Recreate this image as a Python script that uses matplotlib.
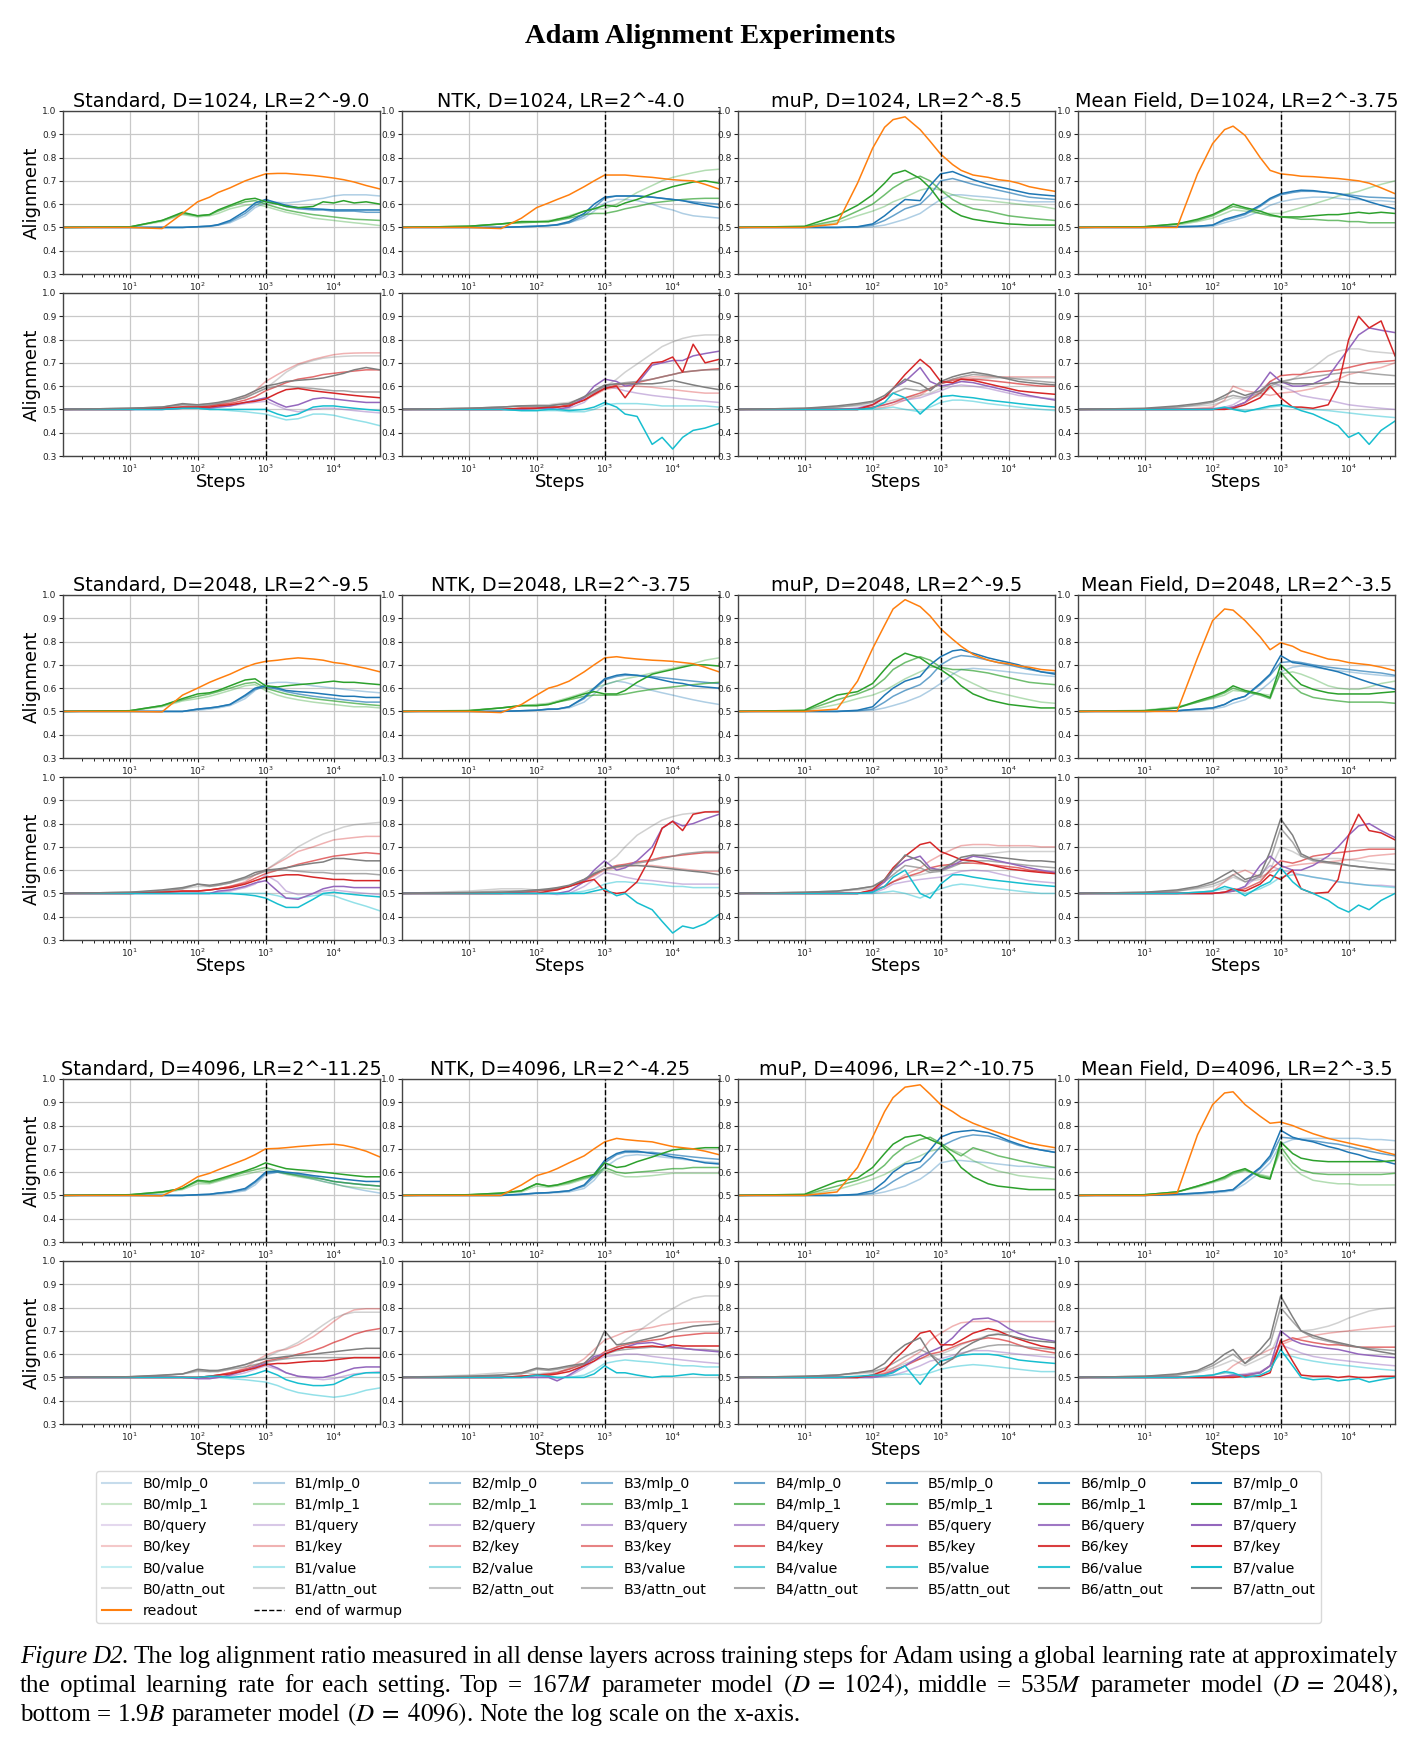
import re
import matplotlib.pyplot as plt
from matplotlib.lines import Line2D

steps = [1, 10, 30, 60, 100, 150, 200, 300, 500, 700, 1000, 1500, 2000,
         3000, 5000, 7000, 10000, 14000, 20000, 30000, 48000]

# Alignment values in percent. Bundles are listed light block -> dark block.
# ---------------- Standard, D=1024 ----------------
std1k_readout = [50, 50, 49.5, 56, 61, 63, 65, 67, 70, 71.5, 73, 73.2, 73.2, 72.8, 72.3, 71.8, 71.2, 70.5, 69.5, 68, 66.5]
std1k_mlp0 = [[50, 50, 50, 50, 50.3, 50.5, 51, 52, 55, 58.5, 60.5, 60.8, 60.5, 61, 62, 62.5, 63.5, 64, 64, 64, 63.5],
              [50, 50, 50, 50, 50.3, 50.5, 51, 52.5, 56, 59.5, 61.5, 60, 59, 58, 57.5, 57.5, 57, 57, 57, 56.5, 56.5],
              [50, 50, 50, 50, 50.3, 50.6, 51.2, 53, 57, 60.5, 62, 60.5, 59.5, 58.5, 58, 57.8, 57.5, 57.5, 57.5, 57.5, 57.5]]
std1k_mlp1 = [[50, 50.2, 52.5, 55.5, 54.5, 55, 56, 58, 59.5, 60, 59, 57.5, 56.5, 55.5, 54, 53.5, 53, 52.5, 52, 51.5, 50.8],
              [50, 50.2, 53, 56, 55, 55.5, 57, 59, 61, 61.5, 60, 58.5, 57.5, 56.5, 55.5, 55, 54.5, 54, 53.5, 53.3, 53],
              [50, 50.2, 53, 56.5, 55, 55.5, 57.5, 59.5, 62, 62.5, 61, 60, 59, 58.5, 59, 61, 60.5, 61.5, 60.5, 61, 60]]
std1k_query = [[50, 50, 50, 50.5, 50.5, 50.5, 51, 51.5, 52.5, 53, 53.5, 51.5, 50, 49, 50, 50.5, 50.5, 50, 49.5, 49, 48.5],
               [50, 50, 50, 50.5, 50.5, 50.5, 51, 51.5, 53, 54, 55, 52.5, 51, 52, 54.5, 55, 54.5, 54, 53.5, 53, 53]]
std1k_key = [[50, 50, 50.5, 51, 51, 51.5, 52, 53, 55.5, 58, 62, 65, 67, 69.5, 71.5, 72.5, 73.5, 74, 74.2, 74.3, 74.3],
             [50, 50, 50.5, 51, 51, 51.5, 52, 52.5, 54, 55.5, 58, 60, 61.5, 63, 64, 65, 65.5, 66, 66.5, 67, 67],
             [50, 50, 50.5, 51, 51, 51, 51.5, 52, 53, 53.5, 54.5, 57, 58.5, 59, 58, 57.5, 57, 56.5, 56, 55.5, 55]]
std1k_value = [[50, 50, 50, 50.5, 50.5, 50, 50, 49.5, 49, 48.5, 48, 46.5, 45.5, 46, 48, 48, 47.5, 46.5, 45.5, 44.5, 43],
               [50, 50, 50, 50.5, 50.5, 50, 50, 50, 50, 50, 50, 48, 47, 48, 51, 51.5, 51.5, 51, 50.5, 50, 49.5]]
std1k_attn = [[50, 50.5, 51, 52, 52, 52.5, 52.5, 53.5, 55, 57, 59, 63, 66, 69, 71, 72, 72.5, 72.8, 73, 73, 73],
              [50, 50.5, 51, 52, 51.5, 52, 52.5, 53.5, 55, 57, 59, 60, 60, 59.5, 59, 58.5, 58, 58, 57.5, 57.5, 57.5],
              [50, 50.5, 51, 52.5, 52, 52.5, 53, 54, 56, 58, 60, 61, 62, 62.5, 63, 63.5, 64.5, 65.5, 67, 68, 67]]

# ---------------- NTK, D=1024 ----------------
ntk1k_readout = [50, 50, 49.5, 54, 58.5, 60.5, 62, 64, 67.5, 70, 72.5, 72.5, 72.5, 72, 71.5, 71, 70.5, 70.2, 70, 68.5, 66.5]
ntk1k_mlp0 = [[50, 50, 50, 50.3, 50.5, 50.8, 51, 52, 54, 57, 60.5, 62, 62, 61.5, 60, 58.5, 57.5, 56, 55, 54.5, 54],
              [50, 50, 50, 50.3, 50.5, 50.8, 51, 52, 55, 58.5, 62.5, 63.5, 63.5, 63.5, 63, 62.5, 62, 61.5, 61, 60.5, 60],
              [50, 50, 50, 50.3, 50.5, 50.8, 51.2, 52.5, 56, 60, 63, 63.5, 63.5, 63.5, 63, 62.5, 62, 61.5, 60.5, 59.5, 58.5]]
ntk1k_mlp1 = [[50, 50.5, 51.5, 52.5, 52.5, 53, 53.5, 55, 57, 58, 58, 60, 62, 65, 68, 70, 71.5, 72.5, 73.5, 74.5, 75],
              [50, 50.5, 51.5, 52, 52.3, 52.5, 53, 54, 55.5, 56, 56, 57, 58, 59, 60.5, 61, 61.5, 62, 62.3, 62.5, 62.5],
              [50, 50.5, 51.5, 52.5, 52.5, 52.5, 53.5, 54.5, 57, 58, 59.5, 59, 60.5, 62, 64.5, 66, 67.5, 68.5, 69.5, 70, 69]]
ntk1k_query = [[50, 50, 50, 50, 50.5, 50.5, 50, 50.5, 53, 57, 60, 59, 58, 57, 56, 55.5, 55, 54.5, 54, 53.5, 53],
               [50, 50, 50, 50, 50.5, 50.5, 50, 51, 55, 60, 63, 62, 60, 61, 69, 70, 71, 71, 73, 74, 75]]
ntk1k_key = [[50, 50, 50, 50.5, 50.5, 51, 51, 52, 54, 56, 58.5, 59.5, 60, 60, 59.5, 59, 58.5, 58, 57.5, 57, 57],
             [50, 50, 50, 50.5, 50.5, 51, 51, 52, 54, 56.5, 59, 60.5, 61, 61.5, 63, 64, 65, 66, 66.5, 67, 67.5],
             [50, 50, 50, 50.5, 50.5, 51, 51, 51.5, 54, 56.5, 59, 60, 55, 62, 70, 70.5, 72.5, 66, 78, 70, 71.5]]
ntk1k_value = [[50, 50, 50, 49.5, 49.5, 49.5, 49.5, 49, 49, 50, 52, 52.5, 52.5, 52.5, 52, 51.5, 51.5, 51.5, 51.5, 51.5, 51],
               [50, 50, 50, 49.5, 49.5, 50, 50, 49.5, 50, 51, 53, 51, 48, 47, 35, 38, 33, 38, 41, 42, 44]]
ntk1k_attn = [[50, 50.5, 51, 51.5, 52, 52, 52.5, 53, 55, 57, 59.5, 63, 66, 69.5, 74, 77, 79, 80.5, 81.5, 82, 82],
              [50, 50.5, 51, 51.5, 51.5, 51.5, 52, 52.5, 55, 57.5, 60, 61, 61.5, 62, 63, 64, 65, 66, 66.5, 67, 67],
              [50, 50.5, 51, 51.5, 51.5, 51.5, 52, 52.5, 55.5, 58, 60.5, 61, 61, 61, 61, 61.5, 62.5, 61.5, 60.5, 59.5, 58.5]]

# ---------------- muP, D=1024 ----------------
mup1k_readout = [50, 50, 51.5, 69, 84, 93, 96.3, 97.5, 92, 87, 81.5, 77, 74.5, 72.5, 71.5, 70.5, 70, 69, 67.5, 66.5, 65.5]
mup1k_mlp0 = [[50, 50, 50, 50, 50.3, 51, 52, 53.5, 56, 59, 62, 64, 64, 63.5, 63, 62.5, 62, 61.5, 61, 61, 61],
              [50, 50, 50, 50.2, 51, 53, 55, 58, 60, 64, 70, 71, 70, 68.5, 67, 66, 65, 64, 63, 62.5, 62],
              [50, 50, 50, 50.3, 51.5, 55, 58, 62, 61.5, 68, 73, 74, 72.5, 70.5, 68.5, 67.5, 66.5, 65.5, 64.5, 64, 63.5]]
mup1k_mlp1 = [[50, 50.2, 52, 55, 57, 59, 61, 63, 66, 67, 66, 64, 63, 62, 61.5, 61, 60.5, 60, 59.5, 59, 58],
              [50, 50.3, 53, 57, 60, 64, 67, 70, 72, 70, 66, 62, 60, 58, 57, 56, 55, 54.5, 54, 53.5, 53],
              [50, 50.5, 55, 59.5, 64, 69, 73, 74.5, 71, 67, 61, 57, 55, 53.5, 52.5, 52, 51.5, 51.3, 51, 51, 51]]
mup1k_query = [[50, 50, 50, 50, 51, 52, 53, 54, 55, 56.5, 58, 60, 60.5, 60, 59, 58, 57, 56, 55.5, 55, 54.5],
               [50, 50, 50, 50.5, 52, 55, 59, 62, 68, 62, 60, 61, 62, 61.5, 60, 59, 58, 57, 56, 55, 54]]
mup1k_key = [[50, 50, 50, 50, 50.5, 51, 52, 54, 56, 59, 61.5, 63, 63.5, 64, 64, 64, 64, 64, 64, 64, 64],
             [50, 50, 50, 50, 51, 52, 53, 55, 57, 59, 61, 62.5, 63, 63, 62.5, 62, 61.5, 61, 60.5, 60, 60],
             [50, 50, 50, 50, 52, 55, 59, 65, 71.5, 68, 62, 61.5, 63, 62.5, 61, 60, 59, 58, 57.5, 57, 56.5]]
mup1k_value = [[50, 50, 50, 50, 50, 50.5, 51, 50, 49, 51, 53, 54, 54, 53.5, 52.5, 52, 51.5, 51, 50.5, 50, 49.5],
               [50, 50, 50, 50, 50.5, 53, 57, 55, 48, 52, 55.5, 56, 55.5, 55, 54, 53.5, 53, 52.5, 52, 51.5, 51]]
mup1k_attn = [[50, 50.3, 51, 51.5, 52, 53, 54, 55, 56, 57, 59, 61, 62, 63, 63.5, 63.5, 63.5, 63.5, 63.5, 63.5, 63.5],
              [50, 50.5, 51, 52, 53, 55, 57, 59, 58, 59, 61, 63, 64, 65, 64.5, 64, 63.5, 63, 62.5, 62, 61.5],
              [50, 50.5, 51.5, 52.5, 53.5, 56, 59, 63, 61, 58, 62, 64, 65, 66, 65, 64, 63, 62, 61.5, 61, 60.5]]

# ---------------- Mean Field, D=1024 ----------------
mf1k_readout = [50, 50, 50, 73, 86, 92, 93.5, 89.5, 80, 74.5, 73, 72.5, 72, 71.8, 71.3, 71, 70.5, 70, 69, 67, 64.5]
mf1k_mlp0 = [[50, 50, 50.2, 50.3, 50.5, 52, 53, 54.5, 57, 59.5, 61, 62, 62.5, 63, 63, 62.5, 62, 62, 61.5, 61.5, 61],
             [50, 50, 50.3, 50.5, 51, 53, 54, 55.5, 59, 62, 64, 65, 65.5, 65.5, 65, 64.5, 64, 63.5, 63, 62.8, 62.5],
             [50, 50, 50.3, 50.5, 51, 53.5, 54.5, 56, 59.5, 62.5, 64.5, 65.5, 66, 65.8, 65, 64.5, 63.5, 62.5, 61, 59.5, 58]]
mf1k_mlp1 = [[50, 50.3, 51, 52.5, 54, 56, 57.5, 57, 56, 56, 56, 57.5, 58.5, 60, 62, 63.5, 64.5, 65.5, 67, 68.5, 70],
             [50, 50.3, 51.5, 53, 55, 57.5, 59, 58, 56, 55, 54.5, 54, 53.5, 53.5, 53, 53, 52.5, 52.5, 52, 52, 52],
             [50, 50.3, 51.5, 53.5, 55.5, 58, 60, 58.5, 57, 55.5, 54.5, 54.5, 54.5, 55, 55.5, 55.5, 56, 56.5, 56, 56.5, 56]]
mf1k_query = [[50, 50, 50, 50, 50.5, 51, 52, 55, 58, 62, 60, 58, 56, 55, 54, 53, 52, 51.5, 51, 50.5, 50],
              [50, 50, 50, 50, 50, 50.5, 51, 53, 60, 66, 62, 60, 60, 61, 64, 70, 76, 82, 85, 84, 83]]
mf1k_key = [[50, 50, 50, 50.5, 51, 54, 60, 58, 57, 56, 57, 57.5, 58, 59, 61, 63, 65, 66, 67, 68, 70],
            [50, 50, 50, 50, 50, 50.5, 51, 53, 57, 62, 64.5, 65, 65, 66, 66.5, 67, 68, 69, 70, 70.5, 71],
            [50, 50, 50, 50, 50, 50, 50.5, 52, 55, 60, 55, 51, 51, 50.5, 52, 60, 80, 90, 85, 88, 73]]
mf1k_value = [[50, 50, 50, 50, 50, 50.5, 50.5, 49.5, 50, 51, 51.5, 51, 50.5, 50, 49.5, 49, 48.5, 48, 47.5, 47, 46.5],
              [50, 50, 50, 50, 50, 51, 50, 49, 50.5, 51.5, 52, 51, 49.5, 48, 45, 43, 38, 40, 35, 41, 45]]
mf1k_attn = [[50, 50.3, 51, 51.5, 52, 53.5, 55, 54.5, 56, 59, 61, 63, 65, 68, 73, 75, 76, 76, 75, 74.5, 74],
             [50, 50.3, 51, 52, 53, 55, 56, 55, 57, 60, 62, 63, 63.5, 64, 65, 65.5, 66, 66, 65.5, 65, 64.5],
             [50, 50.5, 51.5, 52.5, 53.5, 56, 58, 56, 58, 61, 62, 61, 61, 61, 61.5, 62, 61.5, 61, 61, 61, 61]]

# ---------------- Standard, D=2048 ----------------
std2k_readout = [50, 50, 49.8, 57, 60, 62.5, 64, 66, 69, 70.5, 71.5, 72, 72.5, 73, 72.5, 72, 71, 70.5, 69.5, 68.5, 67]
std2k_mlp0 = [[50, 50, 50, 50, 50.5, 51, 51.5, 52.5, 55.5, 59, 62, 62.5, 62.5, 62, 61, 60.5, 60, 59.5, 59, 58.5, 58],
              [50, 50, 50, 50, 51, 51.5, 52, 53, 56.5, 59.5, 60.5, 59.5, 58.5, 57.5, 56.5, 56, 55.5, 55, 54.5, 54, 54],
              [50, 50, 50, 50, 51, 51.5, 52, 53, 57, 60, 61, 60, 59, 58.5, 58, 57.5, 57, 56.5, 56.5, 56, 56]]
std2k_mlp1 = [[50, 50.3, 52, 54.5, 55.5, 56.5, 57.5, 59, 61, 61.5, 59, 57, 56, 55, 54, 53.5, 53, 52.5, 52, 52, 51.5],
              [50, 50.3, 52.5, 55, 56.5, 57.5, 58.5, 60, 62, 62.5, 60, 58.5, 57.5, 56.5, 55.5, 55, 54.5, 54, 53.5, 53, 52.5],
              [50, 50.3, 52.5, 55.5, 57.5, 58, 59, 61, 63.5, 64, 61, 60.5, 61, 61.5, 62, 62.5, 63, 62.5, 62.5, 62, 61.5]]
std2k_query = [[50, 50, 50, 50, 50, 50, 50.5, 51, 52.5, 54, 58, 55, 51, 49.5, 50, 51, 51.5, 51, 50.5, 50, 49.5],
               [50, 50, 50, 50, 50, 50, 51, 51.5, 53, 54.5, 55.5, 51, 48, 47.5, 50, 52, 53, 53, 52.5, 52.5, 52.5]]
std2k_key = [[50, 50, 50.5, 51, 51, 51.5, 52, 53, 55, 58, 60, 63, 65, 68, 70, 71.5, 73, 73.5, 74, 74.5, 74.5],
             [50, 50, 50.5, 51, 51, 51.5, 52, 53, 54.5, 56.5, 58.5, 60, 61, 62.5, 64, 65, 66, 66.5, 67, 67.5, 67],
             [50, 50, 50.5, 51, 51, 51.5, 52, 52.5, 54, 55.5, 57, 57.5, 58, 58, 57, 56.5, 56, 56, 55.5, 55.5, 55.5]]
std2k_value = [[50, 50, 50, 50, 50, 50, 50, 50, 50, 50, 50, 49, 48, 48, 49, 49.5, 49, 47.5, 46, 44.5, 42.5],
               [50, 50, 50, 50, 50, 50, 50, 50, 49.5, 49, 48, 45.5, 44, 44, 47.5, 50, 50.5, 50, 49.5, 49, 48.5]]
std2k_attn = [[50, 50.5, 51, 52, 53, 53, 53.5, 54.5, 56, 58, 60, 63.5, 66, 70, 73.5, 75.5, 77, 78.5, 79.5, 80, 80.5],
              [50, 50.5, 51, 52, 54, 53, 53.5, 54.5, 56.5, 58, 59.5, 60, 60, 59.5, 59, 59, 58.5, 58.5, 58.5, 58.5, 58],
              [50, 50.5, 51.5, 52.5, 54, 53.5, 54, 55, 57, 59, 60, 60.5, 61, 62, 63, 63.5, 65, 65, 64.5, 64, 64]]

# ---------------- NTK, D=2048 ----------------
ntk2k_readout = [50, 50, 49.5, 53, 57, 60, 61, 63, 67, 70, 73, 73.5, 73, 72.5, 72, 71.8, 71.5, 71, 70.5, 69, 67]
ntk2k_mlp0 = [[50, 50, 50, 50.3, 50.5, 50.8, 51, 51.5, 54, 57.5, 61.5, 63, 62.5, 61, 59, 58, 57, 56, 55, 54, 53],
              [50, 50, 50, 50.3, 50.5, 51, 51, 52, 55.5, 59.5, 63.5, 65, 65.5, 65.5, 65, 64.5, 64, 63.5, 63, 62.5, 62],
              [50, 50, 50, 50.3, 50.5, 51, 51, 52, 56, 60, 64, 65.5, 66, 65.5, 64.5, 63.5, 62.5, 62, 61, 60.5, 60]]
ntk2k_mlp1 = [[50, 50.5, 51.5, 52.5, 53, 53.5, 54.5, 56, 58, 60, 61.5, 63, 64, 65, 66.5, 67.5, 68.5, 69.5, 70.5, 72, 73],
              [50, 50.3, 51.5, 52.5, 52.5, 53, 54, 55, 56.5, 57, 57, 57, 57.5, 58.5, 59.5, 60, 60.5, 61, 61.5, 62, 62.5],
              [50, 50.3, 51.5, 52.5, 52.5, 53, 54, 55.5, 57.5, 58.5, 57.5, 57.5, 59, 62.5, 66, 67, 68, 69, 70, 70, 69.5]]
ntk2k_query = [[50, 50, 50, 50, 50, 50, 49.5, 50, 53, 56, 59, 58, 57, 56, 55.5, 55, 54.5, 54, 54, 54, 54],
               [50, 50, 50, 50, 50, 50, 50, 51, 55, 60, 64, 60, 61, 64, 70, 78, 81, 79, 80, 82, 84]]
ntk2k_key = [[50, 50, 50, 50.5, 51, 51.5, 52, 53, 55, 57.5, 60, 61, 61.5, 62, 62, 61.5, 61, 60.5, 60, 59.5, 59.5],
             [50, 50, 50, 50.5, 51, 51.5, 52, 53, 55.5, 58, 60.5, 62, 62.5, 63.5, 64.5, 65.5, 66, 66.5, 67, 67.5, 67.5],
             [50, 50, 50, 50, 50, 51, 51.5, 53, 55, 56, 51, 50, 50.5, 55, 67, 78, 81, 77, 84, 85, 85]]
ntk2k_value = [[50, 50, 50, 50, 50, 50, 50, 50, 51, 52, 54, 55, 55, 54.5, 54, 53.5, 53, 53, 52.5, 52.5, 52.5],
               [50, 50, 50, 50, 50, 50, 50, 50, 50, 51, 52, 49, 50, 46, 43, 38, 33, 36, 35, 37, 41]]
ntk2k_attn = [[50, 51, 52, 52, 51.5, 51.5, 52, 53, 56, 59, 62, 66, 70, 75, 79, 81.5, 83, 84, 84.5, 85, 85.5],
              [50, 50.5, 51, 51, 51.5, 51.5, 52, 53, 56, 58.5, 60.5, 61.5, 62, 63, 64, 65, 66, 67, 67.5, 68, 68],
              [50, 50.3, 50.5, 51, 51.5, 52, 52.5, 53.5, 56, 58.5, 60.5, 61.5, 62, 62, 61.5, 61, 60.5, 60, 59.5, 59, 58]]

# ---------------- muP, D=2048 ----------------
mup2k_readout = [50, 50, 51, 63, 77, 87, 94, 98, 95, 91, 85.5, 81, 78, 74.5, 72, 71, 70.5, 69.5, 69, 68, 67.5]
mup2k_mlp0 = [[50, 50, 50, 50.2, 50.5, 51.5, 52.5, 54, 56.5, 59, 62, 66, 68, 68.5, 68, 67.5, 67, 66.5, 66, 65.5, 65],
              [50, 50, 50, 50.3, 51, 54, 56.5, 59, 61.5, 65, 70, 73, 74, 73.5, 72, 71, 70, 69, 68, 67, 66.5],
              [50, 50, 50, 50.5, 52, 57, 60, 63, 65, 70, 73.5, 76, 76.5, 75, 73, 72, 71, 70, 68.5, 67, 66]]
mup2k_mlp1 = [[50, 50.2, 53, 55.5, 57, 59, 61, 64, 67, 69, 69, 66.5, 64.5, 62, 59, 58, 57, 56, 55, 54, 53.5],
              [50, 50.3, 55, 57.5, 60, 64, 68, 71, 73.5, 72, 69, 68, 68, 67.5, 66.5, 65.5, 64.5, 63.5, 62.5, 62, 61.5],
              [50, 50.5, 57, 58.5, 62, 68, 72, 75, 73, 70, 68, 64.5, 61, 57.5, 55, 54, 53, 52.5, 52, 51.5, 51.5]]
mup2k_query = [[50, 50, 50, 50, 50, 52, 54, 55, 56, 56.5, 57, 58.5, 59.5, 60, 59.5, 58.5, 57.5, 56.5, 55.5, 55, 54.5],
               [50, 50, 50, 50, 51, 55, 60, 64, 66, 61, 60, 62, 64, 66, 65, 64, 63, 62, 61, 60, 59]]
mup2k_key = [[50, 50, 50, 50, 51, 53, 55, 58, 61, 64, 66.5, 69, 70.5, 71, 71, 70.5, 70.5, 70.5, 70.5, 70, 70],
             [50, 50, 50, 50, 51, 53, 55, 57, 59, 61, 62, 62.5, 63, 63, 62.5, 62, 61.5, 61, 60, 59.5, 59],
             [50, 50, 50, 50, 51.5, 56, 61, 66, 71, 72, 68, 66, 64.5, 64, 62.5, 61.5, 60.5, 60, 59.5, 59, 58.5]]
mup2k_value = [[50, 50, 50, 50, 50, 50.5, 51, 50, 48, 50, 52, 53.5, 54, 53.5, 52.5, 52, 51.5, 51, 50.5, 50, 50],
               [50, 50, 50, 50, 50.5, 53, 57, 60, 50, 48, 54, 58, 58, 57, 56, 55.5, 55, 54.5, 54, 53.5, 53]]
mup2k_attn = [[50, 50.3, 50.8, 51.5, 52, 53, 55, 57, 58, 59, 61, 63, 64.5, 66, 67, 67.5, 68, 68, 68, 68, 68],
              [50, 50.5, 51, 52, 53, 55, 58, 62, 61, 59, 59.5, 61.5, 63, 64, 64, 63.5, 63, 62.5, 62, 61.5, 61],
              [50, 50.5, 51, 52, 53, 56, 60, 66.5, 64, 60, 60, 63, 65.5, 66.5, 66, 65.5, 65, 64.5, 64, 64, 63.5]]

# ---------------- Mean Field, D=2048 ----------------
mf2k_readout = [50, 50, 50, 73, 89, 94, 93.5, 89, 82, 76.5, 79.5, 78, 76, 74.5, 72.5, 72, 71, 70.5, 70, 69, 67.5]
mf2k_mlp0 = [[50, 50, 50.2, 50.5, 51, 52, 53.5, 55, 59, 62.5, 67, 69, 69.5, 69, 68, 67.5, 67, 66.5, 66, 65.5, 65],
             [50, 50, 50.3, 51, 51.5, 53, 55, 56.5, 61.5, 65.5, 71, 71.5, 71, 70, 69, 68.5, 68, 67.5, 67, 66.5, 65.5],
             [50, 50, 50.3, 51, 51.5, 53, 55, 56.5, 62, 66, 74, 71, 70.5, 69.5, 68, 67, 65.5, 64, 62.5, 61, 59.5]]
mf2k_mlp1 = [[50, 50.5, 52, 54, 55.5, 57, 59, 58.5, 57.5, 57, 66, 67, 66, 64, 61, 60, 59.5, 59.5, 60.5, 62, 63],
             [50, 50.3, 51.5, 54, 56, 58, 60, 58.5, 57, 55.5, 67, 61, 58, 56, 55, 54.5, 54, 54, 54, 54, 53.5],
             [50, 50.3, 51.5, 54.5, 56.5, 58.5, 61, 59, 57.5, 56, 70, 65, 61.5, 59.5, 58, 57.5, 57.5, 57.5, 57.5, 58, 58.5]]
mf2k_query = [[50, 50, 50, 50, 50, 50.5, 51, 53, 58, 62, 60, 59, 58, 57, 56, 55, 54.5, 54, 53.5, 53.5, 53],
              [50, 50, 50, 50, 50, 50.5, 51, 53, 62, 66, 62, 60, 60, 62, 66, 70, 75, 79, 80, 77, 74]]
mf2k_key = [[50, 50, 50, 50.5, 51, 55, 58, 60, 57, 59, 61, 62, 62.5, 63, 63.5, 64, 64.5, 65, 66, 66.5, 67],
            [50, 50, 50, 50, 50, 50.5, 51, 52, 55, 60, 64, 63, 64, 66, 67, 67.5, 68, 68.5, 69, 69, 69],
            [50, 50, 50, 50, 50, 50.5, 52, 51, 54, 58, 56, 60, 52, 50, 50.5, 56, 75, 84, 77, 76, 73]]
mf2k_value = [[50, 50, 50, 50.5, 51, 52, 51.5, 50, 52, 54, 57, 58, 58, 57, 56, 55, 54.5, 54, 53.5, 53, 52.5],
              [50, 50, 50, 50.5, 51, 53, 52, 49, 53, 55, 61, 55, 52, 50, 47, 44, 42, 45, 43, 47, 50]]
mf2k_attn = [[50, 50.3, 51, 52, 53, 55, 57, 55, 56, 60, 70, 68, 66, 65, 65, 65, 64.5, 64, 63.5, 63, 62.5],
             [50, 50.5, 51, 52.5, 54, 56, 58, 55, 57, 64, 78, 72, 66, 64, 63, 62.5, 62, 61.5, 61, 60.5, 60],
             [50, 50.5, 51.5, 53, 55, 58, 60, 56, 58, 68, 82, 75, 67, 64.5, 63.5, 63, 62, 61.5, 61, 60.5, 60]]

# ---------------- Standard, D=4096 ----------------
std4k_readout = [50, 50, 49.8, 54, 58, 59.5, 61, 63, 65.5, 67.5, 70, 70.2, 70.5, 71, 71.5, 71.8, 72, 71.5, 70.5, 69, 66.5]
std4k_mlp0 = [[50, 50, 50, 50, 50.2, 50.3, 50.5, 51, 52, 54.5, 59, 60, 59.5, 58.5, 57, 56, 55, 54, 53, 52, 51],
              [50, 50, 50, 50, 50.3, 50.5, 51, 51.5, 52.5, 55.5, 59.5, 60, 59.5, 59, 58, 57, 56, 55.5, 55, 54.5, 54],
              [50, 50, 50, 50, 50.3, 50.5, 51, 51.5, 53, 56, 60, 60.5, 60, 59.5, 58.5, 58, 57.5, 57, 56.5, 56, 56]]
std4k_mlp1 = [[50, 50.2, 51, 52.5, 55, 55, 56, 57.5, 59, 60, 61, 60, 59, 58, 57, 56, 55, 54, 53.5, 53, 52.5],
              [50, 50.3, 51.5, 53, 56, 55.5, 56.5, 58, 60, 61, 62, 60.5, 59.5, 58.5, 57.5, 57, 56, 55.5, 55, 54.5, 54],
              [50, 50.3, 51.5, 53, 56.5, 56, 57, 58.5, 60.5, 62, 64, 62.5, 61.5, 61, 60.5, 60, 59.5, 59, 58.5, 58, 58]]
std4k_query = [[50, 50, 50, 50, 49.5, 49.5, 50, 50.5, 52, 53.5, 55, 53.5, 52, 50.5, 49.5, 49, 49.5, 50.5, 51.5, 52, 52.5],
               [50, 50, 50, 50, 49.5, 49.5, 50, 51, 53, 54.5, 56, 54, 52, 50.5, 50, 50, 51, 52.5, 54, 54.5, 54.5]]
std4k_key = [[50, 50, 50, 50, 50, 50.5, 51, 52, 54, 57, 59.5, 61.5, 62, 64, 67.5, 70.5, 74, 77, 79, 79.5, 79.5],
             [50, 50, 50, 50, 50, 50.5, 51, 52, 53.5, 55, 57, 58, 58.5, 60, 61.5, 63, 65, 66.5, 68.5, 70, 71],
             [50, 50, 50, 50, 50, 50.5, 51, 51.5, 53, 54, 55.5, 56, 56, 56.5, 57, 57, 57.5, 58, 58.5, 58.5, 58.5]]
std4k_value = [[50, 50, 50, 50, 50, 50, 50, 49.5, 49, 48.5, 48, 46.5, 45, 43.5, 42.5, 42, 41.5, 42, 43, 44.5, 45.5],
               [50, 50, 50, 50, 50, 50.5, 50.5, 50, 50.5, 51.5, 53, 51, 49, 47.5, 46.5, 46.5, 47, 49, 51, 52, 52]]
std4k_attn = [[50, 50.3, 50.8, 51.5, 52.5, 52.5, 53, 54, 55.5, 57, 58.5, 61, 62.5, 65, 69.5, 72.5, 75.5, 77, 78, 78, 78],
              [50, 50.3, 50.8, 51.5, 53, 52.5, 52.5, 53.5, 54.5, 55.5, 56.5, 57.5, 58, 58.5, 58.5, 58.5, 58.5, 58.5, 58.5, 58.5, 58.5],
              [50, 50.3, 51, 51.5, 53.5, 53, 53, 54, 55.5, 57, 58, 58.5, 59, 59.5, 60, 60.5, 61, 61.5, 62, 62.5, 62.5]]

# ---------------- NTK, D=4096 ----------------
ntk4k_readout = [50, 50, 50, 54.5, 58.5, 60, 61.5, 64, 67, 70, 73, 74.5, 74, 73.5, 73, 72, 71, 70.5, 70, 69, 67.5]
ntk4k_mlp0 = [[50, 50, 50, 50.3, 50.8, 51, 51.2, 51.5, 53, 56.5, 62, 65.5, 67, 67.5, 67, 66.5, 66, 65.5, 65, 64.5, 64],
              [50, 50, 50, 50.5, 51, 51.2, 51.5, 52, 54, 58, 64, 67.5, 68.5, 68.5, 68.5, 68, 67.5, 67, 66.5, 66, 65.5],
              [50, 50, 50, 50.5, 51, 51.2, 51.5, 52, 54.5, 59, 65, 68, 69, 69, 68, 67.5, 66.5, 66, 65, 64, 63.5]]
ntk4k_mlp1 = [[50, 50.2, 50.8, 51.5, 54, 53.5, 54, 55, 57, 58, 61, 59, 58, 58, 58.5, 59, 59.5, 59.5, 59.5, 59.5, 59.5],
              [50, 50.3, 51, 52, 55, 54, 54.5, 55.5, 57.5, 58.5, 62, 60, 59.5, 60, 60.5, 61, 61.5, 61.5, 62, 62, 62],
              [50, 50.3, 51, 52, 55, 54, 54.5, 56, 58, 59, 64, 62, 62.5, 64.5, 66.5, 68, 69.5, 70, 70, 70.5, 70.5]]
ntk4k_query = [[50, 50, 50, 50, 50, 50, 49.5, 50.5, 54, 57, 59, 59.5, 60, 60, 59, 58.5, 58, 57.5, 57, 56.5, 56],
               [50, 50, 50, 50, 50, 50, 48.5, 51, 55, 59, 60, 62, 63, 64.5, 65, 64, 63, 62.5, 62, 61.5, 61]]
ntk4k_key = [[50, 50, 50, 50.5, 51, 51.5, 52, 54, 58, 62, 66, 68, 69.5, 70.5, 71.5, 72.5, 73, 73.5, 73.8, 74, 74],
             [50, 50, 50, 50.5, 51, 51.5, 52, 53.5, 56, 58, 61, 63, 64, 65, 66, 66.5, 67.5, 68, 68.5, 69, 69],
             [50, 50, 50, 50.5, 51, 51, 51.5, 52.5, 55, 57, 60, 62, 63, 63, 63.5, 63, 64, 63.5, 63.5, 63.5, 63.5]]
ntk4k_value = [[50, 50, 50, 50, 50.5, 50.5, 50, 50, 51, 53, 56, 57, 57.5, 57, 56.5, 56, 55.5, 55, 55, 54.5, 54.5],
               [50, 50, 50, 50, 51, 50.5, 50, 50, 50, 51.5, 55, 52, 52, 51, 50, 50.5, 50.5, 51, 51.5, 51, 51]]
ntk4k_attn = [[50, 51, 52, 52, 51.5, 52, 52.5, 53.5, 55.5, 58, 60, 63, 66, 69.5, 74, 77, 79.5, 82, 84, 85, 85],
              [50, 50.5, 51, 51.5, 53.5, 53, 53.5, 54.5, 55.5, 58, 60, 61.5, 62, 62.5, 63, 63, 62.5, 62.5, 62, 62, 61.5],
              [50, 50.5, 51, 52, 54, 53.5, 54, 55, 56, 60, 70, 64, 64.5, 65.5, 67, 68, 70, 71, 72, 72.5, 73]]

# ---------------- muP, D=4096 ----------------
mup4k_readout = [50, 50, 51.5, 62, 75, 86, 92, 96.5, 97.5, 93.5, 89, 86, 83.5, 81, 78.5, 77, 75.5, 74, 72.5, 71.5, 70.5]
mup4k_mlp0 = [[50, 50, 50, 50.2, 50.5, 51.5, 52.5, 54, 57, 60, 64, 65, 65, 64.5, 64, 63.5, 63, 62.5, 62.5, 62, 62],
              [50, 50, 50, 50.3, 51, 53.5, 56, 59, 62, 66, 71, 73.5, 75, 76, 75.5, 74.5, 73, 71.5, 70.5, 69.5, 68.5],
              [50, 50, 50, 50.5, 52, 56, 60, 63.5, 64.5, 69.5, 75, 77, 77.5, 78, 77, 75.5, 73.5, 72, 70.5, 69.5, 68.5]]
mup4k_mlp1 = [[50, 50.2, 52.5, 55, 57, 59, 61, 64, 67, 69, 70, 69.5, 68, 65, 62, 60.5, 59.5, 58.5, 58, 57.5, 57],
              [50, 50.3, 54, 56.5, 59, 63, 67, 71, 74, 75, 72.5, 69, 67, 70.5, 68.5, 67, 66, 65, 64, 63, 62],
              [50, 50.5, 56, 57.5, 62, 68, 72, 75, 76, 74, 72, 67, 62, 58, 55, 54, 53.5, 53, 52.5, 52.5, 52.5]]
mup4k_query = [[50, 50, 50, 50, 50, 50.5, 51, 52.5, 55, 57, 58, 59.5, 60.5, 61.5, 61.5, 61, 60.5, 60, 59.5, 59, 58.5],
               [50, 50, 50, 50, 50, 51, 52.5, 55, 59, 61, 63, 67, 71, 75, 75.5, 74, 71, 69, 67.5, 66.5, 65.5]]
mup4k_key = [[50, 50, 50, 50, 51, 52, 54, 57, 61, 66, 69, 72, 73.5, 74, 74, 74, 74, 74, 74, 74, 74],
             [50, 50, 50, 50, 50.5, 51.5, 53, 55, 58, 60, 61, 63, 64.5, 66, 67, 66.5, 65.5, 64, 62.5, 61.5, 60.5],
             [50, 50, 50, 50, 51, 53, 57, 62, 69, 70, 64, 64, 66, 69, 71, 70, 68, 66.5, 65, 63.5, 62.5]]
mup4k_value = [[50, 50, 50, 50, 50, 50.5, 51, 51.5, 51, 52, 53.5, 54.5, 55, 55.5, 55, 54.5, 54, 53.5, 53, 52.5, 52.5],
               [50, 50, 50, 50.5, 51, 51, 52, 55, 47, 53, 57, 58.5, 59.5, 60, 60, 59.5, 58.5, 57.5, 57, 56.5, 56]]
mup4k_attn = [[50, 50.3, 51, 51.5, 52, 53, 54, 56, 58, 59, 60, 62, 64, 66, 68, 69, 69.5, 70, 70, 70, 70],
              [50, 50.5, 51, 52, 52.5, 54, 56, 59, 62, 60, 57, 58, 60, 62, 63.5, 64, 64, 63.5, 63, 62.5, 62],
              [50, 50.5, 51, 52, 53, 56, 60, 64, 67, 60, 55, 58, 62, 65, 68, 68.5, 68, 67, 66, 65.5, 65]]

# ---------------- Mean Field, D=4096 ----------------
mf4k_readout = [50, 50, 51, 76, 89, 94, 94.5, 89, 84, 81, 81.5, 80, 78.5, 76.5, 74.5, 73.5, 72.5, 71.5, 70.5, 69, 67.5]
mf4k_mlp0 = [[50, 50, 50.3, 50.5, 51, 51.5, 52, 55, 60, 64, 72, 74, 74.5, 74.5, 74.5, 74.5, 74.5, 74.5, 74, 74, 73.5],
             [50, 50, 50.5, 51, 51.5, 52, 52.5, 56.5, 61.5, 66, 75, 74.5, 74, 73.5, 72.5, 72, 71, 70, 69, 68, 67],
             [50, 50, 50.5, 51, 51.5, 52, 52.5, 57, 62, 67, 78, 75, 74, 73, 71, 70, 68.5, 67.5, 66, 65, 63.5]]
mf4k_mlp1 = [[50, 50.3, 51.5, 53.5, 55.5, 57, 59, 60.5, 59, 58, 69, 62, 59, 56.5, 55.5, 55, 55, 54.5, 54.5, 54.5, 54.5],
             [50, 50.3, 51.5, 54, 56, 57.5, 59.5, 61, 58.5, 57.5, 71, 64, 61, 59.5, 59, 59, 59, 59, 59, 59, 59.5],
             [50, 50.3, 51.5, 54, 56, 58, 60, 61.5, 58, 57, 73, 68, 66, 65, 64.5, 64.5, 64.5, 64.5, 64.5, 64.5, 65]]
mf4k_query = [[50, 50, 50, 50, 50, 50.5, 51, 51.5, 52.5, 55, 64, 62, 60.5, 59, 58, 57.5, 57, 56.5, 56, 55.5, 55],
              [50, 50, 50, 50, 50, 50.5, 51, 51, 52, 55, 70, 66, 64.5, 63.5, 62.5, 62, 61, 60, 59.5, 59, 58.5]]
mf4k_key = [[50, 50, 50, 50.5, 51, 52, 55, 58, 60, 62, 64, 66, 67, 68, 69, 69.5, 70, 70.5, 71, 71.5, 72],
            [50, 50, 50, 50, 50, 50, 50.5, 51, 52, 55, 65, 67, 66, 65, 64, 64, 63.5, 63, 63, 63, 63],
            [50, 50, 50, 50, 50, 50, 50, 50.5, 50.5, 52, 66, 57, 51, 50.5, 50.5, 50, 50.5, 50, 50, 50.5, 50.5]]
mf4k_value = [[50, 50, 50, 50.5, 51, 52, 51.5, 50.5, 52, 55, 60, 59, 58, 57, 56, 55.5, 55, 54.5, 54, 53.5, 53],
              [50, 50, 50, 50.5, 51, 52.5, 52, 50, 51, 53, 62, 55, 50, 49, 49.5, 48.5, 49, 49.5, 48, 49, 50]]
mf4k_attn = [[50, 50.5, 51, 52, 54, 56, 57.5, 55, 58, 60, 70, 70, 70, 70.5, 72, 73.5, 75.5, 77, 78.5, 79.5, 80],
             [50, 50.5, 51, 52.5, 55, 58, 60, 56, 60, 64, 80, 74, 70, 67, 65.5, 64.5, 63.5, 63, 62.5, 62, 61.5],
             [50, 50.5, 51.5, 53, 56, 60, 62, 56, 62, 67, 85, 76, 70, 68, 66, 65, 64, 63, 62, 61, 60]]

titles = ["Standard, D=1024, LR=2^-9.0", "NTK, D=1024, LR=2^-4.0",
          "muP, D=1024, LR=2^-8.5", "Mean Field, D=1024, LR=2^-3.75",
          "Standard, D=2048, LR=2^-9.5", "NTK, D=2048, LR=2^-3.75",
          "muP, D=2048, LR=2^-9.5", "Mean Field, D=2048, LR=2^-3.5",
          "Standard, D=4096, LR=2^-11.25", "NTK, D=4096, LR=2^-4.25",
          "muP, D=4096, LR=2^-10.75", "Mean Field, D=4096, LR=2^-3.5"]

panels = [
    (std1k_readout, std1k_mlp0, std1k_mlp1, std1k_query, std1k_key, std1k_value, std1k_attn),
    (ntk1k_readout, ntk1k_mlp0, ntk1k_mlp1, ntk1k_query, ntk1k_key, ntk1k_value, ntk1k_attn),
    (mup1k_readout, mup1k_mlp0, mup1k_mlp1, mup1k_query, mup1k_key, mup1k_value, mup1k_attn),
    (mf1k_readout, mf1k_mlp0, mf1k_mlp1, mf1k_query, mf1k_key, mf1k_value, mf1k_attn),
    (std2k_readout, std2k_mlp0, std2k_mlp1, std2k_query, std2k_key, std2k_value, std2k_attn),
    (ntk2k_readout, ntk2k_mlp0, ntk2k_mlp1, ntk2k_query, ntk2k_key, ntk2k_value, ntk2k_attn),
    (mup2k_readout, mup2k_mlp0, mup2k_mlp1, mup2k_query, mup2k_key, mup2k_value, mup2k_attn),
    (mf2k_readout, mf2k_mlp0, mf2k_mlp1, mf2k_query, mf2k_key, mf2k_value, mf2k_attn),
    (std4k_readout, std4k_mlp0, std4k_mlp1, std4k_query, std4k_key, std4k_value, std4k_attn),
    (ntk4k_readout, ntk4k_mlp0, ntk4k_mlp1, ntk4k_query, ntk4k_key, ntk4k_value, ntk4k_attn),
    (mup4k_readout, mup4k_mlp0, mup4k_mlp1, mup4k_query, mup4k_key, mup4k_value, mup4k_attn),
    (mf4k_readout, mf4k_mlp0, mf4k_mlp1, mf4k_query, mf4k_key, mf4k_value, mf4k_attn),
]

caption_lines = [
    "Figure D2. The log alignment ratio measured in all dense layers across training steps "
    "for Adam using a global learning rate at approximately",
    r"the optimal learning rate for each setting. Top = 167$M$ parameter model $(D\;=\;1024)$, "
    r"middle = 535$M$ parameter model $(D\;=\;2048)$,",
    r"bottom = 1.9$B$ parameter model $(D\;=\;4096)$. Note the log scale on the x-axis.",
]

layer_types = ["mlp_0", "mlp_1", "query", "key", "value", "attn_out"]
type_colors = {"mlp_0": "tab:blue", "mlp_1": "tab:green", "query": "tab:purple",
               "key": "tab:red", "value": "tab:cyan", "attn_out": "tab:gray"}
blocks3 = [1, 4, 7]   # blocks drawn for 3-curve bundles
blocks2 = [2, 7]      # blocks drawn for 2-curve bundles


def block_alpha(b):
    return 0.25 + 0.75 * b / 7


# check list lengths
for title, p in zip(titles, panels):
    for name, bundle in zip(["readout", "mlp_0", "mlp_1", "query", "key", "value", "attn_out"], p):
        curves = [bundle] if name == "readout" else bundle
        for c in curves:
            if len(c) != len(steps):
                raise ValueError(f"{title} {name}: {len(c)} values")

W, H = 1428, 1754
fig = plt.figure(figsize=(W / 100, H / 100), dpi=100)

col_left = [63, 402, 738, 1078]
group_top = [111, 595, 1079]
AX_W, AX_H = 317, 163
ROW_GAP = 182
yticks = [0.3, 0.4, 0.5, 0.6, 0.7, 0.8, 0.9, 1.0]


def add_px_axes(x, y):
    return fig.add_axes([x / W, 1 - (y + AX_H) / H, AX_W / W, AX_H / H])


def style_axes(ax):
    ax.set_xscale("log")
    ax.set_xlim(1.05, 48000)
    ax.set_ylim(0.3, 1.0)
    ax.set_yticks(yticks)
    ax.grid(True, which="major", color="#c8c8c8", lw=0.9)
    ax.set_axisbelow(True)
    ax.tick_params(labelsize=6.5, length=3, pad=1.5, colors="#222")
    ax.tick_params(which="minor", length=1.8)
    for s in ax.spines.values():
        s.set_color("#444")
        s.set_linewidth(1.0)
    ax.axvline(1000, color="black", ls="--", lw=1.0, zorder=5)


def draw_lines(ax, items):
    # items: (block, type, values); plot lighter blocks first
    items.sort(key=lambda t: (t[0], layer_types.index(t[1])))
    for b, t, vals in items:
        ax.plot(steps, [v / 100 for v in vals], color=type_colors[t],
                alpha=block_alpha(b), lw=1.1)


for i, (title, p) in enumerate(zip(titles, panels)):
    g, c = divmod(i, 4)
    readout, mlp0, mlp1, query, key, value, attn = p
    ax_top = add_px_axes(col_left[c], group_top[g])
    ax_bot = add_px_axes(col_left[c], group_top[g] + ROW_GAP)
    for ax in (ax_top, ax_bot):
        style_axes(ax)

    top_items = []
    for b, v in zip(blocks3, mlp0):
        top_items.append((b, "mlp_0", v))
    for b, v in zip(blocks3, mlp1):
        top_items.append((b, "mlp_1", v))
    draw_lines(ax_top, top_items)
    ax_top.plot(steps, [v / 100 for v in readout], color="tab:orange", lw=1.1)

    bot_items = []
    for b, v in zip(blocks2, query):
        bot_items.append((b, "query", v))
    for b, v in zip(blocks3, key):
        bot_items.append((b, "key", v))
    for b, v in zip(blocks2, value):
        bot_items.append((b, "value", v))
    for b, v in zip(blocks3, attn):
        bot_items.append((b, "attn_out", v))
    draw_lines(ax_bot, bot_items)

    ax_top.set_title(title, fontsize=13.8, pad=2)
    ax_bot.set_xlabel("Steps", fontsize=13, labelpad=-1.2)
    if c == 0:
        ax_top.set_ylabel("Alignment", fontsize=13, labelpad=1)
        ax_bot.set_ylabel("Alignment", fontsize=13, labelpad=1)

fig.text(0.497, 1 - 36.5 / H, "Adam Alignment Experiments", fontsize=20.5,
         fontweight="bold", family="Liberation Serif", ha="center", va="center")

# legend (column-major fill: B0 column gets readout, B1 column gets warmup)
handles = []
for b in range(8):
    for t in layer_types:
        handles.append(Line2D([], [], color=type_colors[t], alpha=block_alpha(b),
                              lw=1.5, label=f"B{b}/{t}"))
    if b == 0:
        handles.append(Line2D([], [], color="tab:orange", lw=1.5, label="readout"))
    if b == 1:
        handles.append(Line2D([], [], color="black", ls="--", lw=1.0, label="end of warmup"))
fig.legend(handles=handles, ncol=8, loc="upper left",
           bbox_to_anchor=(96 / W, 1 - 1471 / H), borderaxespad=0, fontsize=10.2,
           columnspacing=2.0, handlelength=2.1, handletextpad=0.8,
           labelspacing=0.5, frameon=True, edgecolor="#d0d0d0")

# caption: justified lines 1-2, natural spacing on line 3
CAP_SIZE = 18
cap_kw = dict(fontsize=CAP_SIZE, family="Liberation Serif", math_fontfamily="stix",
              ha="left", va="baseline")
cap_left, cap_right = 20, 1398
baselines = [1663, 1692, 1721]
renderer = fig.canvas.get_renderer()
for n, (line, base) in enumerate(zip(caption_lines, baselines)):
    words = re.findall(r"(?:\$[^$]*\$|\S)+", line)
    objs = []
    for k, w in enumerate(words):
        style = "italic" if (n == 0 and k < 2) else "normal"
        objs.append(fig.text(0, 1 - base / H, w, style=style, **cap_kw))
    widths = [o.get_window_extent(renderer).width for o in objs]
    if n < 2:
        gap = (cap_right - cap_left - sum(widths)) / (len(words) - 1)
    else:
        gap = 0.25 * CAP_SIZE * 100 / 72
    x = cap_left
    for o, w in zip(objs, widths):
        o.set_x(x / W)
        x += w + gap

fig.savefig("out.png", dpi=100)
